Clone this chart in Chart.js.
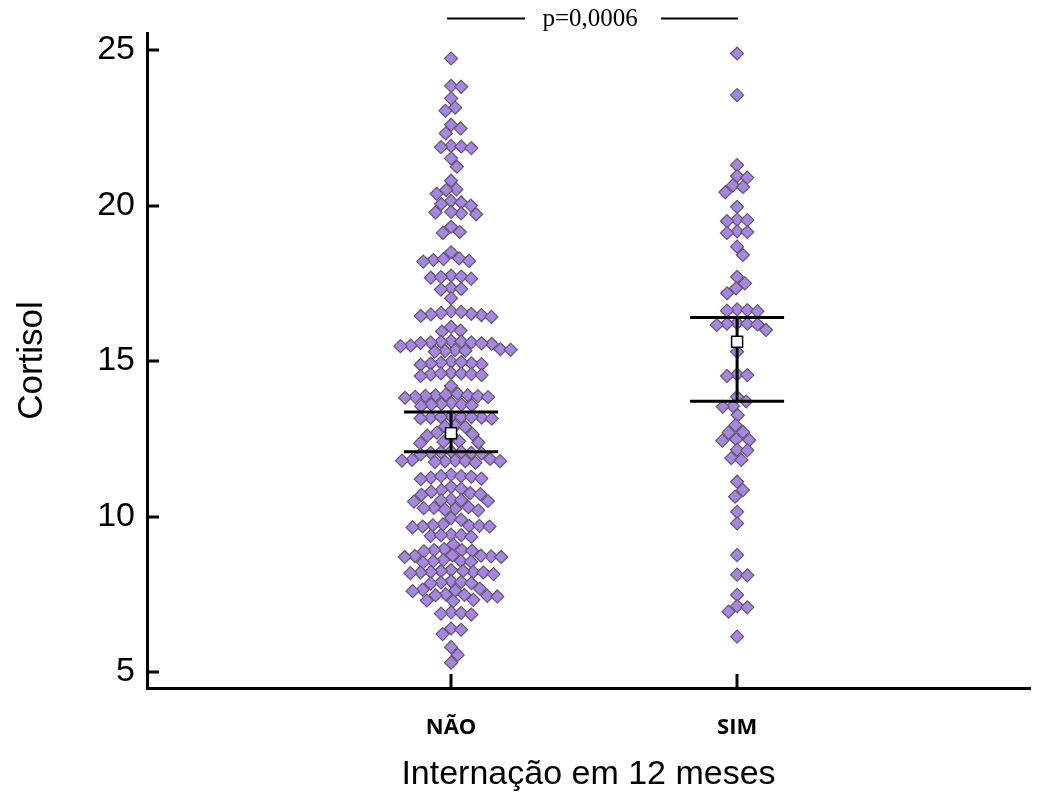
<!DOCTYPE html>
<html><head><meta charset="utf-8">
<script src="https://cdn.jsdelivr.net/npm/chart.js@4/dist/chart.umd.min.js"></script>
<style>html,body{margin:0;padding:0;background:#fff;}#wrap{width:1039px;height:803px;}</style>
</head><body><div id="wrap"><canvas id="c" width="1039" height="803"></canvas></div>
<script>
const categories = ['NÃO', 'SIM'];
const yTicks = [5, 10, 15, 20, 25];
const naoValues = [
  24.73,
  23.85, 23.82, 23.45, 23.15, 23.05,
  22.6, 22.48, 22.32,
  21.92, 21.88, 21.9, 21.85, 21.52, 21.25, 20.8,
  20.52, 20.5, 20.38,
  20.15, 20.1, 20.05, 20.0,
  19.78, 19.75, 19.8, 19.72,
  19.32, 19.15, 19.12, 18.5,
  18.3, 18.25, 18.2, 18.22, 18.28,
  17.75, 17.72, 17.68, 17.7, 17.65,
  17.35, 17.3, 17.32, 17.02,
  16.6, 16.55, 16.5, 16.48, 16.45, 16.52, 16.58, 16.42,
  16.1, 15.98, 15.95,
  15.65, 15.62, 15.6, 15.58, 15.63, 15.6, 15.55, 15.57, 15.5, 15.48,
  15.38, 15.35, 15.32, 15.3, 15.36, 15.33,
  14.98, 14.95, 14.92, 14.9, 14.93, 14.97, 14.88,
  14.62, 14.6, 14.58, 14.55, 14.57, 14.6, 14.52,
  14.2,
  13.95, 13.9, 13.92, 13.88, 13.85, 13.9, 13.87, 13.84, 13.82,
  13.65, 13.62, 13.6, 13.58, 13.6, 13.55,
  13.22, 13.2, 13.18, 13.2, 13.16, 13.18, 13.15, 13.2,
  12.92, 12.9, 12.88,
  12.7, 12.65, 12.62, 12.6,
  12.42, 12.4, 12.38, 12.36,
  12.1, 12.08, 12.05, 12.07, 12.03, 12.05, 12.0,
  11.85, 11.82, 11.8, 11.78, 11.8, 11.77, 11.75, 11.78, 11.73,
  11.35, 11.3, 11.28, 11.25, 11.22, 11.3, 11.2,
  10.95, 10.9, 10.85, 10.8, 10.75, 10.72, 10.7,
  10.55, 10.53, 10.5, 10.52, 10.48,
  10.3, 10.28, 10.25, 10.27, 10.22, 10.2,
  9.95, 9.9,
  9.75, 9.72, 9.7, 9.68, 9.7, 9.65, 9.68,
  9.42, 9.4, 9.38, 9.4, 9.35,
  9.1,
  8.95, 8.92, 8.9, 8.92, 8.88,
  8.75, 8.73, 8.72, 8.7, 8.74, 8.7,
  8.6, 8.57, 8.55, 8.56, 8.52,
  8.28, 8.25, 8.22, 8.2, 8.22, 8.18, 8.2, 8.25, 8.15,
  7.92, 7.9, 7.88, 7.86, 7.85,
  7.68, 7.65, 7.62, 7.6,
  7.5, 7.48, 7.45, 7.47, 7.43,
  7.32, 7.3, 7.28,
  6.92, 6.9, 6.88, 6.85,
  6.4, 6.36, 6.22,
  5.8, 5.55, 5.3
];
const simValues = [
  24.89, 23.55, 21.3,
  20.95, 20.9, 20.65, 20.6, 20.43,
  19.96, 19.55, 19.53, 19.5, 19.17, 19.15, 19.12,
  18.68, 18.41,
  17.71, 17.5, 17.34, 17.18,
  16.66, 16.64, 16.62, 16.6,
  16.22, 16.2, 16.18, 16.2, 16.16, 16.0,
  15.3,
  14.57, 14.55, 14.52,
  13.85, 13.7, 13.55, 13.53, 13.26, 12.94,
  12.72, 12.7, 12.48, 12.46, 12.44,
  12.15, 12.13, 11.88, 11.82,
  11.12, 10.85, 10.64, 10.15, 9.78,
  8.76, 8.13, 8.11, 7.48, 7.12, 7.08, 6.94, 6.14
];
const means = [12.68, 15.62];
const lowerCI = [12.08, 13.71];
const upperCI = [13.36, 16.40];
const pLabel = 'p=0,0006';
const xTitle = 'Internação em 12 meses';
const yTitle = 'Cortisol';

const groups = [naoValues, simValues];
const pointFill = '#a884e6';
const pointBorder = '#5f5a68';

const overlay = {
  id: 'overlay',
  afterDatasetsDraw(chart) {
    const ctx = chart.ctx, xs = chart.scales.x, ys = chart.scales.y;
    const ca = chart.chartArea;
    ctx.save();
    ctx.strokeStyle = '#000';
    ctx.lineWidth = 3;
    yTicks.forEach(t => {
      const y = Math.round(ys.getPixelForValue(t));
      ctx.beginPath(); ctx.moveTo(ca.left, y); ctx.lineTo(ca.left + 12, y); ctx.stroke();
    });
    categories.forEach((c, i) => {
      const x = Math.round(xs.getPixelForValue(i));
      ctx.beginPath(); ctx.moveTo(x, ca.bottom); ctx.lineTo(x, ca.bottom - 14); ctx.stroke();
    });
    categories.forEach((c, i) => {
      const x = xs.getPixelForValue(i);
      const yU = ys.getPixelForValue(upperCI[i]);
      const yL = ys.getPixelForValue(lowerCI[i]);
      const yM = ys.getPixelForValue(means[i]);
      ctx.lineWidth = 3;
      ctx.beginPath();
      ctx.moveTo(x, yU); ctx.lineTo(x, yL);
      ctx.moveTo(x - 47, yU); ctx.lineTo(x + 47, yU);
      ctx.moveTo(x - 47, yL); ctx.lineTo(x + 47, yL);
      ctx.stroke();
      ctx.fillStyle = '#fff';
      ctx.lineWidth = 1.5;
      ctx.fillRect(x - 5.5, yM - 5.5, 11, 11);
      ctx.strokeRect(x - 5.5, yM - 5.5, 11, 11);
    });
    const xc = (xs.getPixelForValue(0) + xs.getPixelForValue(1)) / 2 - 4;
    ctx.font = '25px "Liberation Serif", serif';
    ctx.fillStyle = '#000';
    ctx.textAlign = 'center';
    ctx.textBaseline = 'middle';
    ctx.fillText(pLabel, xc, 19);
    ctx.lineWidth = 2;
    ctx.beginPath();
    ctx.moveTo(xc - 143, 18.5); ctx.lineTo(xc - 65, 18.5);
    ctx.moveTo(xc + 71, 18.5); ctx.lineTo(xc + 148, 18.5);
    ctx.stroke();
    ctx.restore();
  }
};

const chart = new Chart(document.getElementById('c'), {
  type: 'scatter',
  data: {
    datasets: groups.map((vals, gi) => ({
      label: categories[gi],
      data: vals.map(v => ({ x: gi, y: v })),
      pointStyle: 'rectRot',
      pointRadius: 6.5,
      pointHoverRadius: 6.5,
      backgroundColor: pointFill,
      borderColor: pointBorder,
      borderWidth: 1.2
    }))
  },
  options: {
    responsive: false,
    animation: false,
    devicePixelRatio: 1,
    layout: { padding: { top: 33, right: 9, left: 0, bottom: 0 } },
    plugins: { legend: { display: false }, tooltip: { enabled: false } },
    scales: {
      x: {
        type: 'linear',
        min: -1.063,
        max: 2.024,
        afterBuildTicks: s => { s.ticks = categories.map((c, i) => ({ value: i })); },
        afterFit: s => { s.height = 115; },
        ticks: {
          callback: v => categories[v] ?? '',
          color: '#000',
          padding: 27,
          maxRotation: 0,
          font: { family: '"Open Sans", sans-serif', weight: 'bold', size: 22 }
        },
        grid: { display: true, drawOnChartArea: false, drawTicks: false },
        border: { display: true, color: '#000', width: 3 },
        title: {
          display: true, text: xTitle, color: '#000',
          font: { family: '"Liberation Sans", Arial, sans-serif', size: 34 },
          padding: { top: 0, bottom: 8 }
        }
      },
      y: {
        min: 4.486,
        max: 25.55,
        afterBuildTicks: s => { s.ticks = yTicks.map(v => ({ value: v })); },
        afterFit: s => { s.width = 147; },
        ticks: {
          color: '#000',
          padding: 12,
          font: { family: '"Liberation Sans", Arial, sans-serif', size: 34 }
        },
        grid: { display: true, drawOnChartArea: false, drawTicks: false },
        border: { display: true, color: '#000', width: 3 },
        title: {
          display: true, text: yTitle, color: '#000',
          font: { family: '"Liberation Sans", Arial, sans-serif', size: 35 },
          padding: { top: 11, bottom: 0 }
        }
      }
    }
  },
  plugins: [overlay]
});

function swarm(values, ys, pxPerUnit, diam) {
  const order = values.map((v, i) => i).sort((a, b) => values[b] - values[a]);
  const placed = [];
  const offs = new Array(values.length).fill(0);
  for (const i of order) {
    const y = ys.getPixelForValue(values[i]);
    const near = placed.filter(p => Math.abs(p.y - y) < diam);
    const cands = [0];
    near.forEach(p => {
      const dx = Math.sqrt(diam * diam - (p.y - y) * (p.y - y));
      cands.push(p.x + dx, p.x - dx);
    });
    cands.sort((a, b) => Math.abs(a) - Math.abs(b));
    let best = 0;
    for (const c of cands) {
      if (near.every(p => (p.x - c) ** 2 + (p.y - y) ** 2 >= diam * diam - 0.01)) { best = c; break; }
    }
    placed.push({ x: best, y });
    offs[i] = best / pxPerUnit;
  }
  return offs;
}
const xs = chart.scales.x, ys = chart.scales.y;
const ppu = xs.getPixelForValue(1) - xs.getPixelForValue(0);
groups.forEach((vals, gi) => {
  const offs = swarm(vals, ys, ppu, 10.2);
  chart.data.datasets[gi].data = vals.map((v, k) => ({ x: gi + offs[k], y: v }));
});
chart.update('none');
</script>
</body></html>
